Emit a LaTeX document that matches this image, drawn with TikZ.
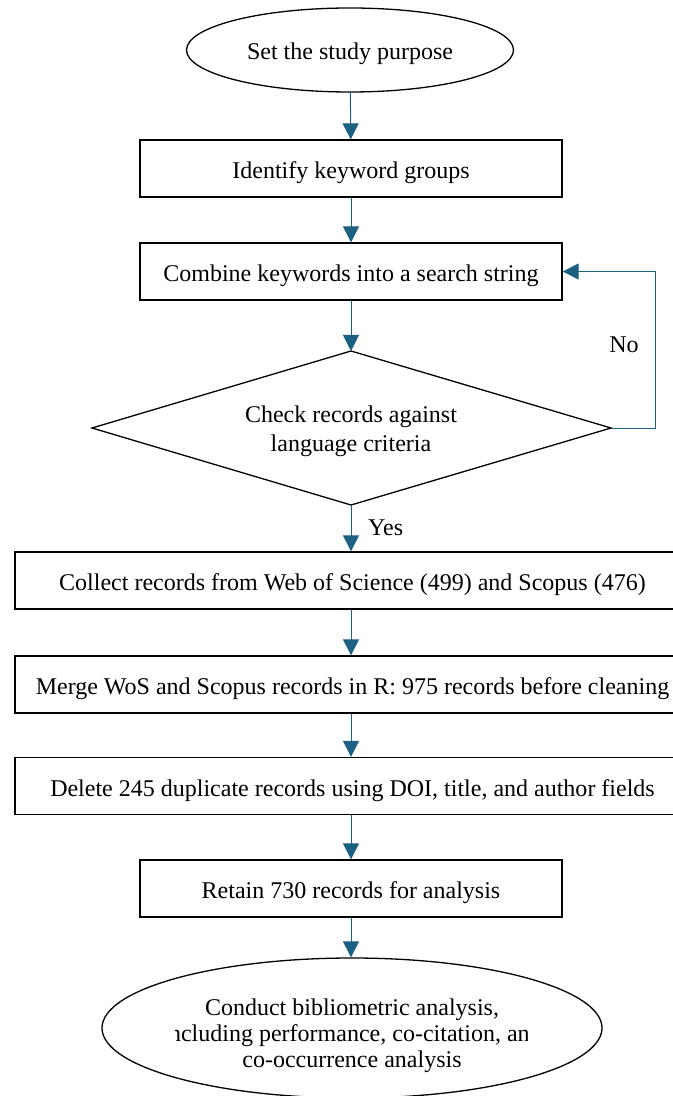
\documentclass[tikz,border=0pt]{standalone}
\usepackage{fontspec}
\setmainfont{Liberation Serif}
\usepackage{xcolor}
\usetikzlibrary{shapes.geometric}
\usetikzlibrary{arrows.meta}

\definecolor{flowblue}{RGB}{28,96,130}

\tikzset{
  stepbox/.style={draw=black,line width=0.65pt,rectangle,minimum width=211pt,minimum height=28.5pt,inner sep=0pt,text height=11pt,text depth=1pt},
  widebox/.style={stepbox,minimum width=337.5pt},
  endcap/.style={draw=black,line width=0.65pt,ellipse,inner sep=0pt},
  flow/.style={-{Triangle[width=8pt,length=8pt]},color=flowblue,line width=0.5pt},
  lbl/.style={font=\fontsize{12}{13}\selectfont}
}

\begin{document}
\begin{tikzpicture}[x=0.5pt,y=-0.5pt,every node/.style={lbl}]

\useasboundingbox (0,0) rectangle (673,1096);
\clip (0,0) rectangle (673,1096);

%start and the first steps
\node[endcap,minimum width=163.5pt,minimum height=42pt,text height=11pt,text depth=1pt] (purpose) at (350,50) {Set the study purpose};
\node[stepbox] (keywords) at (351,168.5) {Identify keyword groups};
\node[stepbox] (combine) at (351,271.5) {Combine keywords into a search string};

%language check
\coordinate (checktop) at (351,351);
\coordinate (checkright) at (611,428);
\coordinate (checkbottom) at (351,505);
\coordinate (checkleft) at (92,428);
\draw[line width=0.65pt] (checktop) -- (checkright) -- (checkbottom) -- (checkleft) -- cycle;
\node[align=center,inner sep=0pt] (check) at (351,431) {Check records against\\[1.5pt]language criteria};

%record handling
\node[widebox] (collect) at (352.5,580.5) {Collect records from Web of Science (499) and Scopus (476)};
\node[widebox] (merge) at (352.5,684.5) {Merge WoS and Scopus records in R: 975 records before cleaning};
\node[widebox] (delete) at (352.5,786) {Delete 245 duplicate records using DOI, title, and author fields};
\node[stepbox] (retain) at (351,888.5) {Retain 730 records for analysis};

%final step, text cut by its box
\node[endcap,minimum width=250pt,minimum height=70pt] (analysis) at (352,1028) {};
\begin{scope}
  \clip (175,980) rectangle (527,1080);
  \node[align=center,inner sep=0pt] (analysistext) at (352,1036) {Conduct bibliometric analysis,\\including performance, co-citation, and\\co-occurrence analysis};
\end{scope}

%connectors
\draw[flow] (purpose) -- (keywords);
\draw[flow] (keywords) -- (combine);
\draw[flow] (combine) -- (checktop);
\draw[flow] (checkbottom) -- (checkbottom |- collect.north) node[midway,anchor=west,xshift=5pt,color=black] (yes) {Yes};
\draw[flow] (collect.south -| checkbottom) -- (merge.north -| checkbottom);
\draw[flow] (merge.south -| checkbottom) -- (delete.north -| checkbottom);
\draw[flow] (delete.south -| checkbottom) -- (retain);
\draw[flow] (retain) -- (analysis.north -| retain.south);

%back to the search string
\coordinate (loopturn) at (655,428);
\draw[flow] (checkright) -- (loopturn) |- (combine.east);
\node (no) at (624,345) {No};

\end{tikzpicture}
\end{document}
